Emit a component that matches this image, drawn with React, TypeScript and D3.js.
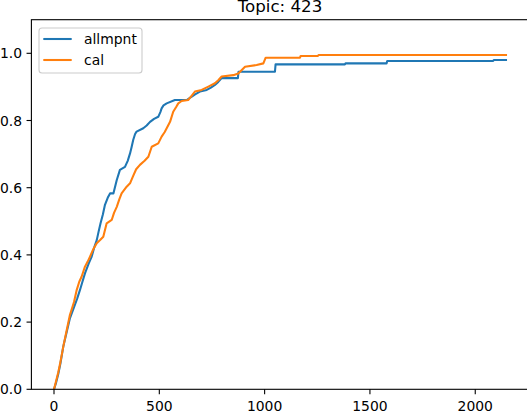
import React from "react";
import * as d3 from "d3";

const allmpntX = [0, 10, 20, 30, 44, 60, 75, 96, 110, 123, 135, 147, 165, 179, 190, 203, 212, 221, 232, 242, 255, 266, 282, 290, 298, 313, 337, 350, 361, 368, 376, 385, 392, 424, 440, 456, 475, 495, 505, 511, 520, 535, 574, 630, 654, 670, 693, 725, 745, 764, 780, 796, 873, 876, 1049, 1052, 1381, 1384, 1579, 1582, 2085, 2088, 2146];
const allmpntY = [0, 0.02, 0.045, 0.075, 0.127, 0.17, 0.21, 0.246, 0.27, 0.295, 0.32, 0.345, 0.375, 0.395, 0.42, 0.444, 0.47, 0.494, 0.52, 0.549, 0.57, 0.583, 0.583, 0.603, 0.623, 0.653, 0.662, 0.68, 0.702, 0.72, 0.742, 0.76, 0.767, 0.777, 0.785, 0.796, 0.805, 0.811, 0.825, 0.836, 0.845, 0.851, 0.861, 0.861, 0.871, 0.878, 0.886, 0.891, 0.898, 0.906, 0.915, 0.926, 0.926, 0.945, 0.945, 0.967, 0.967, 0.97, 0.97, 0.977, 0.977, 0.98, 0.98];

const calX = [0, 10, 20, 30, 45, 60, 75, 95, 108, 120, 131, 147, 160, 171, 185, 203, 220, 234, 250, 274, 285, 298, 310, 321, 345, 361, 376, 390, 408, 430, 448, 464, 495, 511, 525, 535, 551, 566, 580, 590, 606, 637, 655, 669, 701, 733, 764, 780, 796, 851, 875, 907, 962, 994, 1005, 1168, 1171, 1253, 1256, 2146];
const calY = [0, 0.025, 0.05, 0.08, 0.13, 0.175, 0.22, 0.26, 0.296, 0.32, 0.335, 0.365, 0.38, 0.395, 0.415, 0.435, 0.445, 0.454, 0.494, 0.504, 0.525, 0.543, 0.565, 0.583, 0.603, 0.613, 0.635, 0.655, 0.668, 0.68, 0.692, 0.722, 0.732, 0.752, 0.765, 0.777, 0.796, 0.826, 0.84, 0.851, 0.858, 0.861, 0.875, 0.886, 0.891, 0.901, 0.911, 0.92, 0.931, 0.935, 0.94, 0.96, 0.965, 0.97, 0.987, 0.987, 0.992, 0.992, 0.995, 0.995];

const xTicks = [0, 500, 1000, 1500, 2000];
const yTicks = [0, 0.2, 0.4, 0.6, 0.8, 1.0];
const seriesNames = ["allmpnt", "cal"];
const seriesColors = ["#1f77b4", "#ff7f0e"];
const title = "Topic: 423";

export default function App() {
  const W = 527, H = 413;
  const left = 31.4, right = 528.6, top = 19.7, bottom = 389.3;
  const x = d3.scaleLinear().domain([-107.3, 2253.3]).range([left, right]);
  const y = d3.scaleLinear().domain([0, 1.1]).range([bottom, top]);
  const line = d3.line<[number, number]>().x(d => x(d[0])).y(d => y(d[1]));
  const series = [
    allmpntX.map((v, i) => [v, allmpntY[i]] as [number, number]),
    calX.map((v, i) => [v, calY[i]] as [number, number]),
  ];
  const font = "DejaVu Sans, sans-serif";
  return (
    <svg width={W} height={H} style={{ position: "absolute", left: 0, top: 0, background: "#fff" }} fontFamily={font}>
      <rect x={0} y={0} width={W} height={H} fill="#fff" />
      <text x={(left + right) / 2} y={11.7} textAnchor="middle" fontSize={16.67} fill="#000">{title}</text>
      <defs>
        <clipPath id="clip"><rect x={left} y={top} width={right - left} height={bottom - top} /></clipPath>
      </defs>
      <g clipPath="url(#clip)">
        {series.map((s, i) => (
          <path key={i} d={line(s) || ""} fill="none" stroke={seriesColors[i]} strokeWidth={2.08} strokeLinejoin="round" strokeLinecap="square" />
        ))}
      </g>
      <rect x={left} y={top} width={right - left} height={bottom - top} fill="none" stroke="#000" strokeWidth={1.1} />
      {xTicks.map(t => (
        <g key={t}>
          <line x1={x(t)} x2={x(t)} y1={bottom} y2={bottom + 4.86} stroke="#000" strokeWidth={1.1} />
          <text x={x(t)} y={411} textAnchor="middle" fontSize={13.9} fill="#000">{t}</text>
        </g>
      ))}
      {yTicks.map(t => (
        <g key={t}>
          <line x1={left} x2={left - 4.86} y1={y(t)} y2={y(t)} stroke="#000" strokeWidth={1.1} />
          <text x={22} y={y(t)} dy="0.36em" textAnchor="end" fontSize={13.9} fill="#000">{t.toFixed(1)}</text>
        </g>
      ))}
      <g>
        <rect x={39} y={28} width={103} height={45} rx={3} fill="#fff" fillOpacity={0.8} stroke="#cccccc" strokeWidth={1.1} />
        {seriesNames.map((n, i) => (
          <g key={n}>
            <line x1={43.3} x2={71.7} y1={39 + i * 21} y2={39 + i * 21} stroke={seriesColors[i]} strokeWidth={2.08} />
            <text x={84} y={39 + i * 21} dy="0.36em" fontSize={13.9} fill="#000">{n}</text>
          </g>
        ))}
      </g>
    </svg>
  );
}
